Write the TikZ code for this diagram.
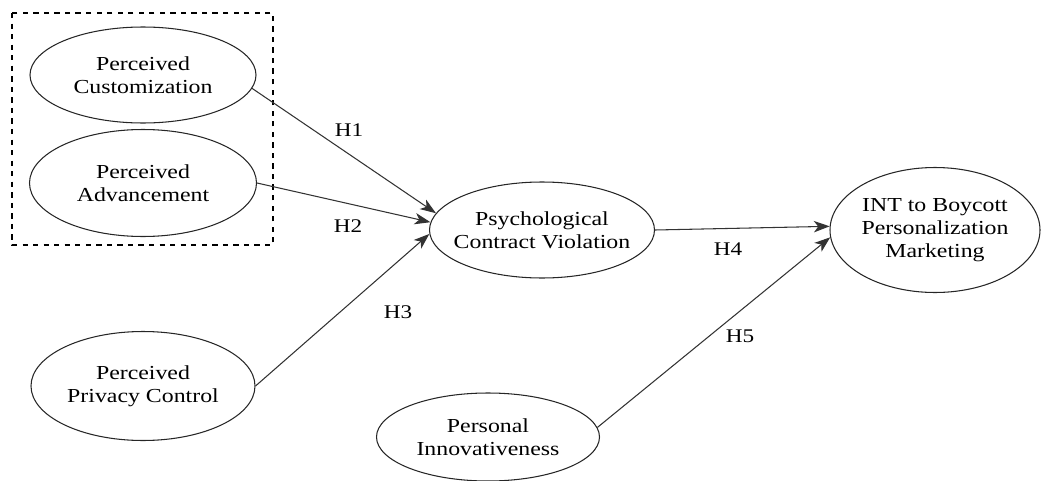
\documentclass[tikz,border=0pt]{standalone}
\usepackage{fontspec}
\setmainfont{Liberation Serif}[FakeStretch=1.2]
\usepackage{tikz}
\usetikzlibrary{arrows,arrows.meta,shapes,positioning}
\tikzstyle{construct} = [ellipse, draw=black!85, line width=0.6pt, inner xsep=-1cm, inner ysep=0pt, align=center, font=\fontsize{11.3pt}{13pt}\selectfont]
\tikzstyle{arrow} = [line width=0.6pt,->,>={Stealth[length=9pt,width=6.5pt,inset=2.5pt]},color=black!80]
\tikzstyle{hyp} = [font=\fontsize{11pt}{13pt}\selectfont]

\begin{document}
\begin{tikzpicture}
\useasboundingbox (0,0) rectangle (20.92,9.60);

% Antecedents
\node[construct, minimum width=4.52cm, minimum height=1.92cm] (pc) at (2.86,8.10) {Perceived\\Customization};
\node[construct, minimum width=4.54cm, minimum height=2.14cm] (pa) at (2.86,5.94) {Perceived\\Advancement};
\node[construct, minimum width=4.48cm, minimum height=2.18cm] (ppc) at (2.86,1.88) {Perceived\\Privacy Control};

% Group box
\draw[dashed, line width=0.6pt] (0.24,9.34) rectangle (5.46,4.70);

% Mediator and outcome
\node[construct, minimum width=4.50cm, minimum height=1.92cm] (pcv) at (10.84,5.00) {Psychological\\Contract Violation};
\node[construct, minimum width=4.20cm, minimum height=2.50cm] (int) at (18.70,5.00) {INT to Boycott\\Personalization\\Marketing};
\node[construct, minimum width=4.46cm, minimum height=1.76cm] (pi) at (9.76,0.86) {Personal\\Innovativeness};

% Paths
\draw[arrow] (pc.-7) -- (pcv.171);
\draw[arrow] (pa.east) -- (pcv.176);
\draw[arrow] (ppc.east) -- (pcv.182);
\draw[arrow] (pcv.east) -- (int.178);
\draw[arrow] (pi.5) -- (int.184);

% Hypothesis labels
\node[hyp] (h1) at (6.98,7.00) {H1};
\node[hyp] (h2) at (6.96,5.08) {H2};
\node[hyp] (h3) at (7.96,3.36) {H3};
\node[hyp] (h4) at (14.56,4.62) {H4};
\node[hyp] (h5) at (14.80,2.88) {H5};
\end{tikzpicture}
\end{document}
